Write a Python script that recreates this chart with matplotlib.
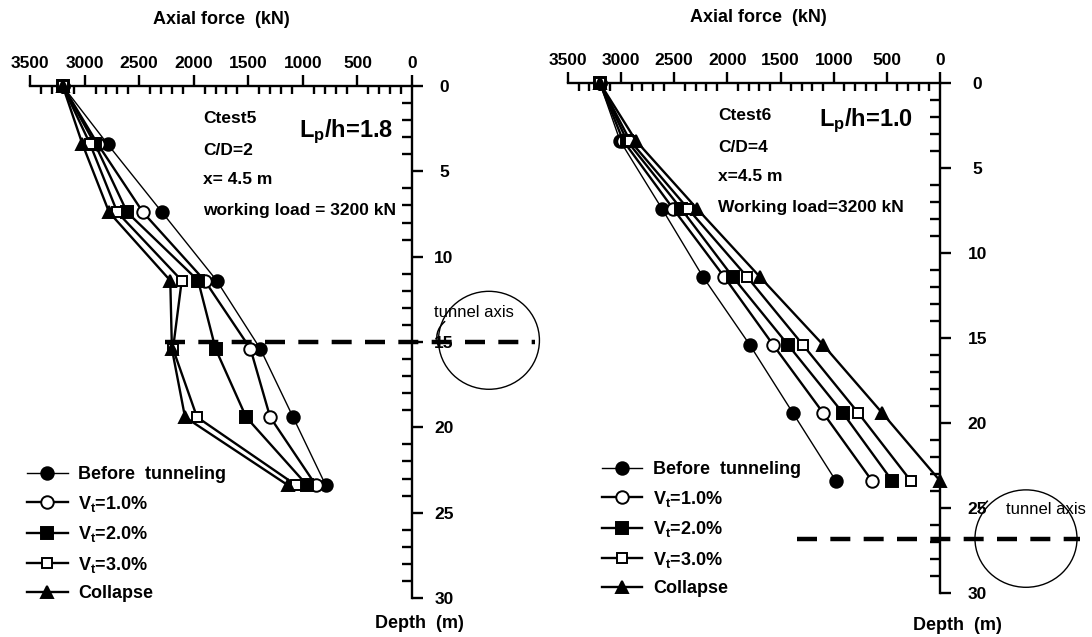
import matplotlib
matplotlib.use("Agg")
import matplotlib.pyplot as plt
from matplotlib.patches import Ellipse
from matplotlib.ticker import MultipleLocator

plt.rcParams["font.family"] = "Liberation Sans"
plt.rcParams["font.weight"] = "bold"
plt.rcParams["mathtext.fontset"] = "custom"
plt.rcParams["mathtext.rm"] = "Liberation Sans:bold"
plt.rcParams["mathtext.it"] = "Liberation Sans:bold"
plt.rcParams["mathtext.default"] = "rm"

#? depths of the measuring points (m)
depth = [0, 3.4, 7.4, 11.4, 15.4, 19.4, 23.4]

#* Ctest5 axial force (kN)
c5_before = [3200, 2790, 2290, 1790, 1390, 1090, 790]
c5_v1 = [3200, 2880, 2465, 1900, 1480, 1300, 880]
c5_v2 = [3200, 2905, 2610, 1960, 1800, 1520, 960]
c5_v3 = [3200, 2950, 2700, 2110, 2190, 1970, 1060]
c5_col = [3200, 3020, 2775, 2215, 2200, 2080, 1135]

#* Ctest6 axial force (kN)
c6_before = [3200, 3010, 2615, 2230, 1790, 1385, 980]
c6_v1 = [3200, 2980, 2510, 2030, 1570, 1100, 640]
c6_v2 = [3200, 2945, 2435, 1950, 1430, 915, 450]
c6_v3 = [3200, 2915, 2370, 1815, 1290, 770, 275]
c6_col = [3200, 2860, 2285, 1695, 1100, 545, 0]

labels = ["Before  tunneling", "V$_t$=1.0%", "V$_t$=2.0%", "V$_t$=3.0%", "Collapse"]
markers = ["o", "o", "s", "s", "^"]
faces = ["black", "white", "black", "white", "black"]
sizes = [9, 9, 8, 7.5, 9]
widths = [1.0, 1.7, 1.7, 1.7, 1.7]

tunnel5 = 15.0
tunnel6 = 26.8

fig = plt.figure(figsize=(10.92, 6.37), dpi=100)
ax1 = fig.add_axes([0.0275, 0.0612, 0.3498, 0.8038])
ax2 = fig.add_axes([0.5201, 0.0691, 0.3407, 0.8006])


def draw_panel(ax, series, legend_anchor, ypad):
    for vals, lab, m, fc, ms, lw in zip(series, labels, markers, faces, sizes, widths):
        ax.plot(vals, depth, color="black", lw=lw, marker=m, markerfacecolor=fc,
                markeredgecolor="black", markeredgewidth=1.4, markersize=ms,
                label=lab, clip_on=False, zorder=3)
    ax.set_xlim(3500, 0)
    ax.set_ylim(30, 0)
    ax.xaxis.tick_top()
    ax.yaxis.tick_right()
    ax.xaxis.set_major_locator(MultipleLocator(500))
    ax.xaxis.set_minor_locator(MultipleLocator(100))
    ax.yaxis.set_major_locator(MultipleLocator(5))
    ax.yaxis.set_minor_locator(MultipleLocator(1))
    for s in ["left", "bottom"]:
        ax.spines[s].set_visible(False)
    for s in ["top", "right"]:
        ax.spines[s].set_linewidth(1.7)
    ax.tick_params(axis="x", which="major", direction="out", length=8, width=1.7,
                   pad=3, labelsize=12.5)
    ax.tick_params(axis="x", which="minor", direction="in", length=6, width=1.7)
    ax.tick_params(axis="y", which="major", direction="out", length=8, width=1.7,
                   pad=ypad, labelsize=12.5)
    ax.tick_params(axis="y", which="minor", direction="in", length=7, width=1.7)
    for t in ax.get_yticklabels():
        t.set_horizontalalignment("center")
    ax.legend(loc="upper left", bbox_to_anchor=legend_anchor, bbox_transform=fig.transFigure,
              frameon=False, borderpad=0, borderaxespad=0, handlelength=2.25,
              handletextpad=0.6, labelspacing=0.58, prop={"size": 13, "weight": "bold"})


draw_panel(ax1, [c5_before, c5_v1, c5_v2, c5_v3, c5_col], (0.0247, 0.268), 15)
draw_panel(ax2, [c6_before, c6_v1, c6_v2, c6_v3, c6_col], (0.551, 0.276), 19)

#? case descriptions
for ax, x0, lines, xl, yl, lp in [
    (ax1, 1915, ["Ctest5", "C/D=2", "x= 4.5 m", "working load = 3200 kN"], 1035, 2.7, "L$_p$/h=1.8"),
    (ax2, 2089, ["Ctest6", "C/D=4", "x=4.5 m", "Working load=3200 kN"], 1138, 2.2, "L$_p$/h=1.0"),
]:
    for txt, yy in zip(lines, [1.9, 3.8, 5.5, 7.3]):
        ax.text(x0, yy, txt, fontsize=12.5, fontweight="bold", ha="left", va="center")
    ax.text(xl, yl, lp, fontsize=17, fontweight="bold", ha="left", va="center")

#? tunnel axis marks
ax1.plot([2263, -1127], [tunnel5, tunnel5], color="black", lw=3.2, dashes=(4.5, 3),
         clip_on=False, zorder=4)
ax1.add_patch(Ellipse((-705, tunnel5 - 0.1), 925, 5.74, fill=False, lw=1, clip_on=False))
ax1.text(-568, 13.3, "tunnel axis", fontsize=12, fontweight="normal", ha="center", va="center")
ax1.annotate("", xy=(-245, tunnel5 + 0.3), xytext=(-300, 13.8),
             arrowprops=dict(arrowstyle="-", lw=1.1, connectionstyle="arc3,rad=0.35",
                             shrinkA=0, shrinkB=0),
             annotation_clip=False, zorder=5)

ax2.plot([1345, -1317], [tunnel6, tunnel6], color="black", lw=3.2, dashes=(4.5, 3),
         clip_on=False, zorder=4)
ax2.add_patch(Ellipse((-809, tunnel6), 960, 5.73, fill=False, lw=1, clip_on=False))
ax2.text(-1000, 25.1, "tunnel axis", fontsize=12, fontweight="normal", ha="center", va="center")
ax2.plot([-445, -360], [24.6, 25.2], color="black", lw=1.1, clip_on=False)

#? axis titles
fig.text(221 / 1092, 1 - 20 / 637, "Axial force  (kN)", fontsize=13, fontweight="bold",
         ha="center", va="center")
fig.text(758 / 1092, 1 - 17 / 637, "Axial force  (kN)", fontsize=13, fontweight="bold",
         ha="center", va="center")
fig.text(419 / 1092, 1 - 623 / 637, "Depth  (m)", fontsize=13, fontweight="bold",
         ha="center", va="center")
fig.text(957 / 1092, 1 - 625 / 637, "Depth  (m)", fontsize=13, fontweight="bold",
         ha="center", va="center")

fig.savefig("out.png", dpi=100)
